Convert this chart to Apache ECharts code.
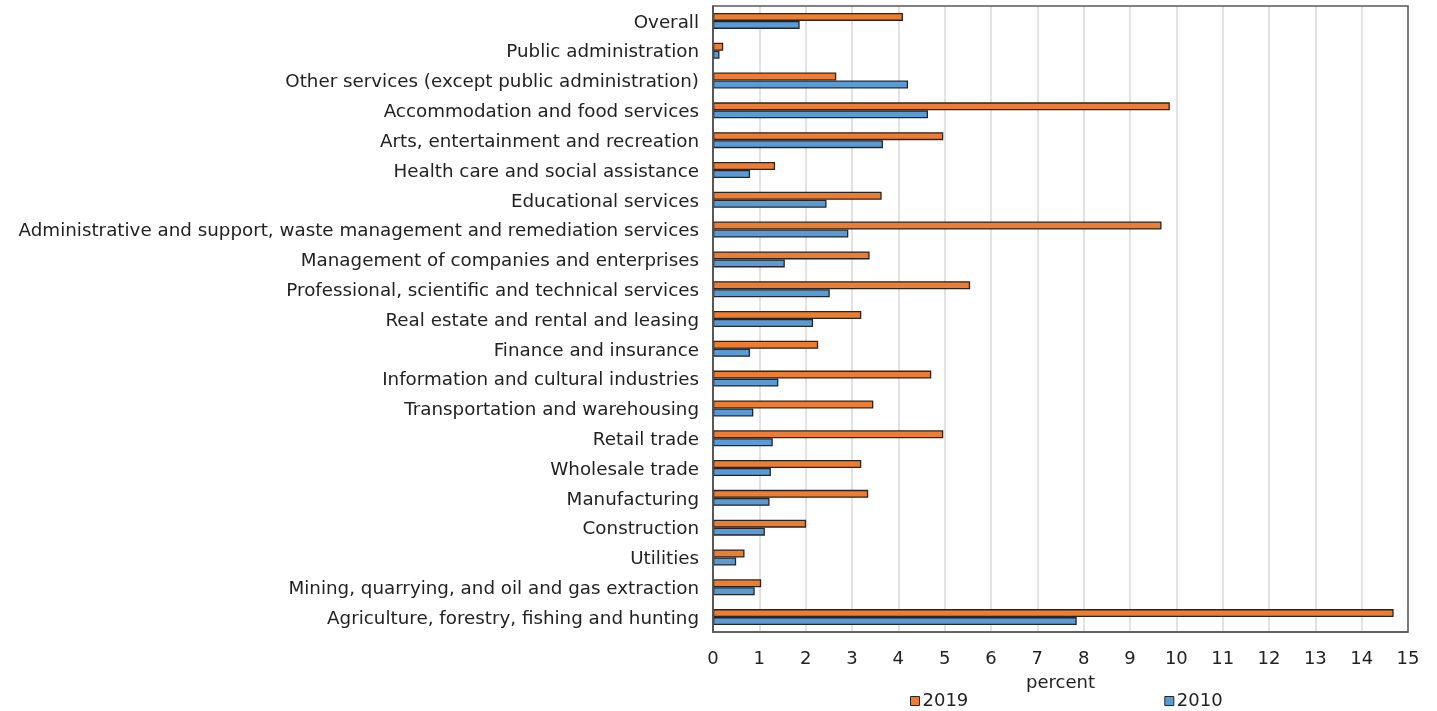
<!DOCTYPE html>
<html>
<head>
<meta charset="utf-8">
<script src="https://cdn.jsdelivr.net/npm/echarts@6/dist/echarts.min.js"></script>
<style>
  html, body { margin: 0; padding: 0; background: #fff; }
  #chart { width: 1437px; height: 711px; }
</style>
</head>
<body>
<div id="chart"></div>
<script>
const industries = [
  "Overall",
  "Public administration",
  "Other services (except public administration)",
  "Accommodation and food services",
  "Arts, entertainment and recreation",
  "Health care and social assistance",
  "Educational services",
  "Administrative and support, waste management and remediation services",
  "Management of companies and enterprises",
  "Professional, scientific and technical services",
  "Real estate and rental and leasing",
  "Finance and insurance",
  "Information and cultural industries",
  "Transportation and warehousing",
  "Retail trade",
  "Wholesale trade",
  "Manufacturing",
  "Construction",
  "Utilities",
  "Mining, quarrying, and oil and gas extraction",
  "Agriculture, forestry, fishing and hunting"
];

const values2019 = [4.10, 0.22, 2.66, 9.86, 4.97, 1.34, 3.64, 9.68, 3.38, 5.55, 3.20,
  2.27, 4.71, 3.46, 4.97, 3.20, 3.35, 2.01, 0.68, 1.04, 14.69];
const values2010 = [1.87, 0.14, 4.21, 4.64, 3.67, 0.80, 2.45, 2.92, 1.55, 2.52, 2.16,
  0.80, 1.41, 0.87, 1.29, 1.25, 1.22, 1.12, 0.50, 0.90, 7.85];

const FONT = "DejaVu Sans, Verdana, sans-serif";
const TEXT = "#222222";

const chart = echarts.init(document.getElementById("chart"));

function barSeries(name, data, color) {
  return {
    name: name,
    type: "bar",
    data: data,
    barWidth: 8,
    barGap: "0%",
    itemStyle: { color: color, borderColor: "#262626", borderWidth: 1.3 },
    emphasis: { disabled: true },
    animation: false
  };
}

chart.setOption({
  animation: false,
  textStyle: { fontFamily: FONT },
  grid: { left: 713, right: 29, top: 6, bottom: 79, containLabel: false },
  legend: {
    left: 910,
    top: 692,
    padding: 0,
    itemGap: 196,
    itemWidth: 9,
    itemHeight: 9,
    icon: "rect",
    textStyle: { fontFamily: FONT, fontSize: 18, color: TEXT, padding: [0, 0, 0, -2] },
    data: [
      { name: "2019", itemStyle: { borderColor: "#262626", borderWidth: 1 } },
      { name: "2010", itemStyle: { borderColor: "#262626", borderWidth: 1 } }
    ]
  },
  xAxis: {
    type: "value",
    min: 0,
    max: 15,
    interval: 1,
    name: "percent",
    nameLocation: "middle",
    nameGap: 42,
    nameTextStyle: { fontFamily: FONT, fontSize: 18, color: TEXT },
    axisLine: { show: true, lineStyle: { color: "#595959", width: 1.5 } },
    axisTick: { show: false },
    axisLabel: { fontFamily: FONT, fontSize: 18, color: TEXT, margin: 18 },
    splitLine: { show: true, lineStyle: { color: "#d9d9d9", width: 1.5 } }
  },
  yAxis: [
    {
      type: "category",
      data: industries,
      inverse: true,
      axisLine: { show: true, lineStyle: { color: "#262626", width: 1.5 } },
      axisTick: { show: false },
      axisLabel: {
        fontFamily: FONT, fontSize: 18.3, color: TEXT, margin: 14,
        verticalAlign: "top", lineHeight: 22, padding: [-9, 0, 0, 0]
      },
      splitLine: { show: false }
    }
  ],
  graphic: [
    {
      type: "rect",
      shape: { x: 713, y: 6, width: 695, height: 626 },
      style: { fill: null, stroke: "#595959", lineWidth: 1.5 },
      silent: true,
      z: 10
    }
  ],
  series: [
    barSeries("2019", values2019, "#ED7D31"),
    barSeries("2010", values2010, "#5B9BD5")
  ]
});
</script>
</body>
</html>
